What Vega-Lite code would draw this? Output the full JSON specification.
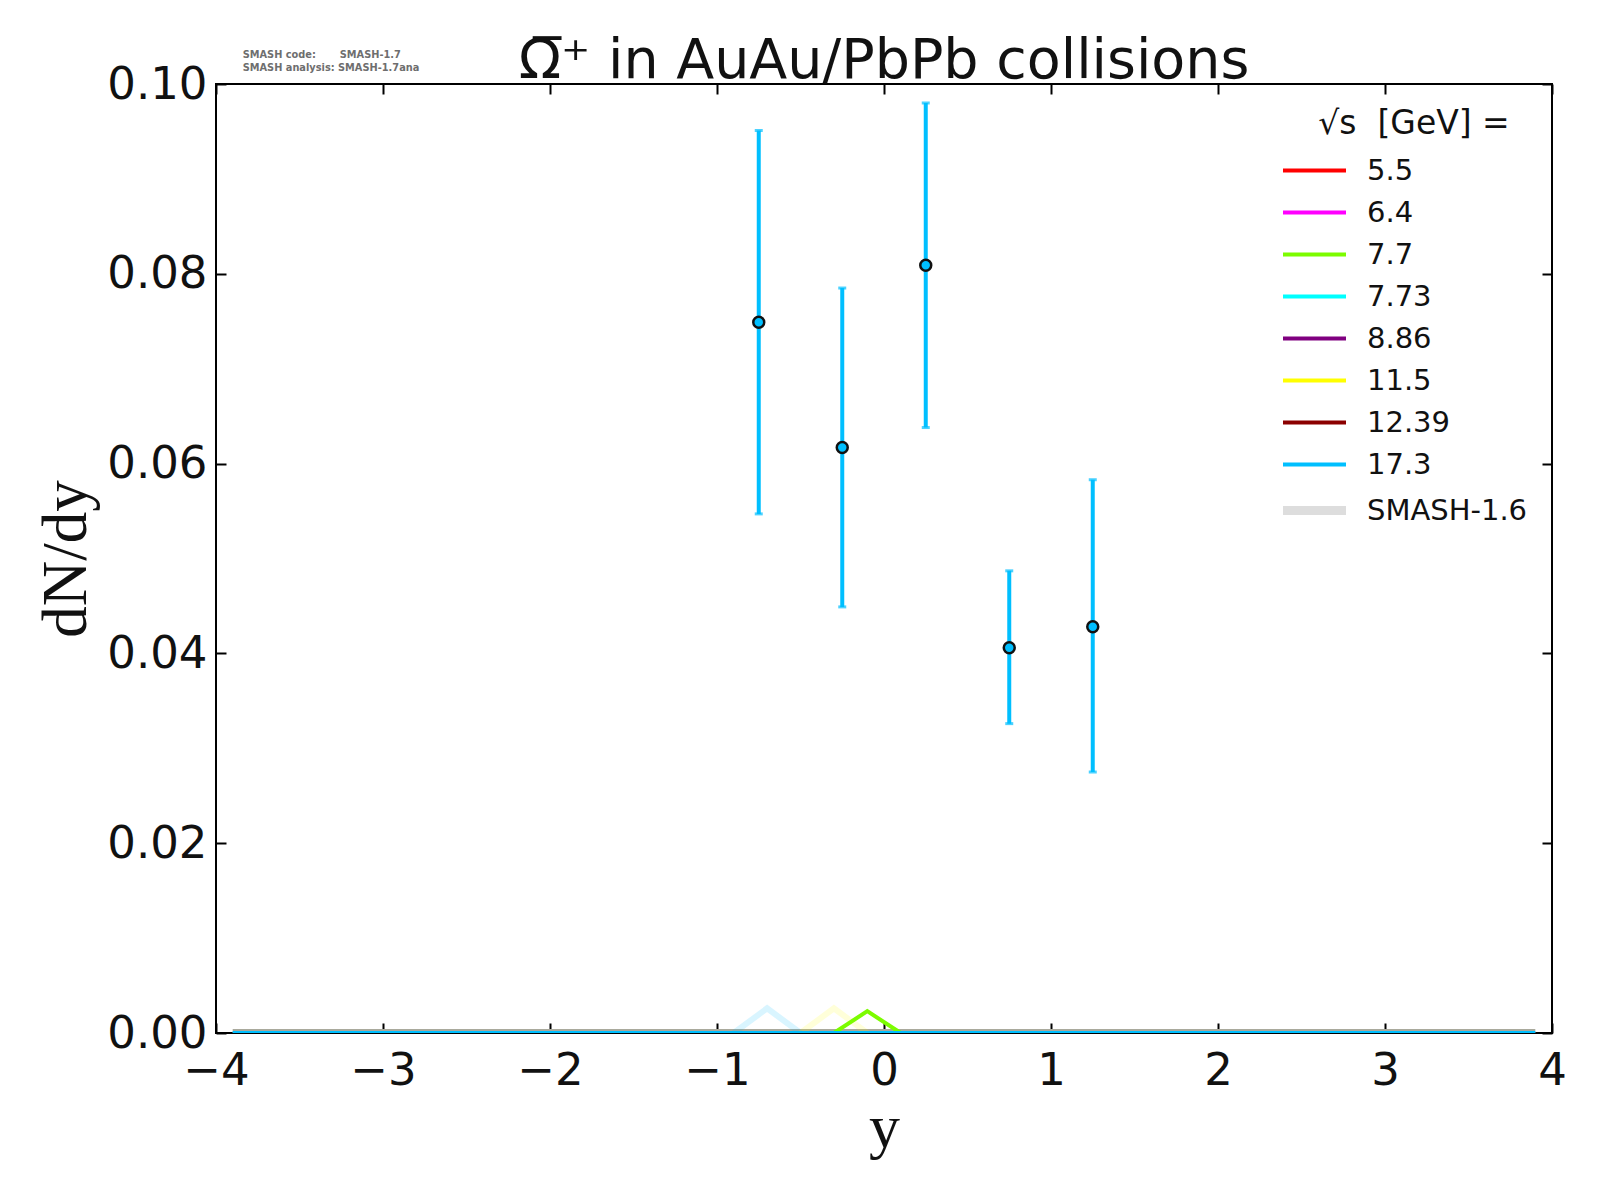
{
  "$schema": "https://vega.github.io/schema/vega-lite/v6.json",
  "width": 1336,
  "height": 949,
  "autosize": {"type": "none"},
  "padding": {"left": 216, "top": 84, "right": 48, "bottom": 167},
  "background": "white",
  "title": {"text": "Ω̅⁺ in AuAu/PbPb collisions", "font": "DejaVu Sans", "fontSize": 55.5, "fontWeight": "normal", "color": "#111111", "offset": -39, "anchor": "middle"},
  "config": {
    "view": {"stroke": "black", "strokeWidth": 2},
    "axis": {"domain": false, "grid": false, "tickColor": "black", "tickWidth": 2, "tickSize": -10, "labelFont": "DejaVu Sans", "labelFontSize": 45, "labelColor": "#111111", "labelFlush": false, "titleFont": "Liberation Serif", "titleFontWeight": "normal", "titleColor": "#111111", "zindex": 1},
    "legend": {"labelFont": "DejaVu Sans", "labelFontSize": 29, "labelColor": "#111111", "labelLimit": 400, "titleFont": "DejaVu Sans", "titleFontSize": 33, "titleFontWeight": "normal", "titleColor": "#111111", "titleLimit": 400}
  },
  "datasets": {
    "pts": [
      {"y": -0.75, "dNdy": 0.0749, "lo": 0.0547, "hi": 0.0951},
      {"y": -0.25, "dNdy": 0.0617, "lo": 0.0449, "hi": 0.0785},
      {"y": 0.25, "dNdy": 0.0809, "lo": 0.0638, "hi": 0.098},
      {"y": 0.75, "dNdy": 0.0406, "lo": 0.0326, "hi": 0.0487},
      {"y": 1.25, "dNdy": 0.0428, "lo": 0.0275, "hi": 0.0583}
    ],
    "old": [
      {"y": -0.9, "dNdy": 0, "s": "17.3"},
      {"y": -0.7, "dNdy": 0.0026, "s": "17.3"},
      {"y": -0.5, "dNdy": 0, "s": "17.3"},
      {"y": -0.5, "dNdy": 0, "s": "11.5"},
      {"y": -0.3, "dNdy": 0.0026, "s": "11.5"},
      {"y": -0.1, "dNdy": 0, "s": "11.5"}
    ],
    "cur": [
      {"y": -0.3, "dNdy": 0, "s": "7.7"},
      {"y": -0.1, "dNdy": 0.0023, "s": "7.7"},
      {"y": 0.1, "dNdy": 0, "s": "7.7"},
      {"y": -3.9, "dNdy": 0, "s": "17.3"},
      {"y": 3.9, "dNdy": 0, "s": "17.3"}
    ],
    "band": [
      {"y": -3.9, "dNdy": 0},
      {"y": 3.9, "dNdy": 0}
    ]
  },
  "layer": [
    {
      "data": {"name": "pts"},
      "mark": {"type": "point", "opacity": 0},
      "encoding": {
        "x": {"field": "y", "type": "quantitative", "scale": {"domain": [-4, 4], "nice": false, "zero": false},
              "axis": {"values": [-4, -3, -2, -1, 0, 1, 2, 3, 4], "format": "d", "title": "y", "titleFontSize": 62, "labelPadding": 25, "titlePadding": 4}},
        "y": {"field": "dNdy", "type": "quantitative", "scale": {"domain": [0, 0.1], "nice": false, "zero": false},
              "axis": {"values": [0, 0.02, 0.04, 0.06, 0.08, 0.1], "format": ".2f", "title": "dN/dy", "titleFontSize": 63, "labelPadding": 19, "titlePadding": 8}}
      }
    },
    {
      "data": {"name": "pts"},
      "mark": {"type": "point", "opacity": 0},
      "encoding": {
        "x": {"field": "y", "type": "quantitative", "axis": {"orient": "top", "values": [-4, -3, -2, -1, 0, 1, 2, 3, 4], "labels": false, "title": null}},
        "y": {"field": "dNdy", "type": "quantitative", "axis": {"orient": "right", "values": [0, 0.02, 0.04, 0.06, 0.08, 0.1], "labels": false, "title": null}}
      }
    },
    {
      "data": {"name": "band"},
      "mark": {"type": "line", "color": "#a9a99c", "strokeWidth": 8, "clip": true},
      "encoding": {
        "x": {"field": "y", "type": "quantitative", "axis": null},
        "y": {"field": "dNdy", "type": "quantitative", "axis": null}
      }
    },
    {
      "data": {"name": "old"},
      "mark": {"type": "line", "strokeWidth": 6, "opacity": 0.15, "clip": true},
      "encoding": {
        "x": {"field": "y", "type": "quantitative", "axis": null},
        "y": {"field": "dNdy", "type": "quantitative", "axis": null},
        "color": {"field": "s", "type": "nominal"}
      }
    },
    {
      "data": {"name": "cur"},
      "mark": {"type": "line", "strokeWidth": 4, "clip": true},
      "encoding": {
        "x": {"field": "y", "type": "quantitative", "axis": null},
        "y": {"field": "dNdy", "type": "quantitative", "axis": null},
        "color": {"field": "s", "type": "nominal",
          "scale": {"domain": ["5.5", "6.4", "7.7", "7.73", "8.86", "11.5", "12.39", "17.3", "SMASH-1.6"],
                    "range": ["#ff0000", "#ff00ff", "#7cfc00", "#00ffff", "#800080", "#ffff00", "#8b0000", "#00bfff", "#dddddd"]},
          "legend": {"title": "√s\u00a0 [GeV] =", "orient": "top-right", "offset": 24, "titleAnchor": "middle", "titlePadding": 15, "symbolType": "stroke", "symbolSize": 3969, "symbolStrokeWidth": 4, "rowPadding": 12, "labelOffset": 38,
            "encode": {"symbols": {"update": {"strokeWidth": {"signal": "datum.value === 'SMASH-1.6' ? 9 : 4"}}}}}}
      }
    },
    {
      "data": {"name": "pts"},
      "mark": {"type": "rule", "color": "#00bfff", "strokeWidth": 4},
      "encoding": {
        "x": {"field": "y", "type": "quantitative", "axis": null},
        "y": {"field": "lo", "type": "quantitative", "axis": null},
        "y2": {"field": "hi"}
      }
    },
    {
      "data": {"name": "pts"},
      "mark": {"type": "tick", "orient": "horizontal", "color": "#00bfff", "size": 8, "thickness": 3},
      "encoding": {
        "x": {"field": "y", "type": "quantitative", "axis": null},
        "y": {"field": "lo", "type": "quantitative", "axis": null}
      }
    },
    {
      "data": {"name": "pts"},
      "mark": {"type": "tick", "orient": "horizontal", "color": "#00bfff", "size": 8, "thickness": 3},
      "encoding": {
        "x": {"field": "y", "type": "quantitative", "axis": null},
        "y": {"field": "hi", "type": "quantitative", "axis": null}
      }
    },
    {
      "data": {"name": "pts"},
      "mark": {"type": "point", "shape": "circle", "filled": true, "fill": "#00bfff", "stroke": "#111111", "strokeWidth": 2.5, "size": 120, "opacity": 1},
      "encoding": {
        "x": {"field": "y", "type": "quantitative", "axis": null},
        "y": {"field": "dNdy", "type": "quantitative", "axis": null}
      }
    },
    {
      "data": {"values": [{}]},
      "mark": {"type": "text", "align": "left", "baseline": "middle", "font": "DejaVu Sans", "fontSize": 9.8, "fontWeight": "bold", "color": "#6e6e6e", "lineHeight": 13, "dy": -29},
      "encoding": {
        "x": {"datum": -3.84, "type": "quantitative", "axis": null},
        "y": {"datum": 0.1, "type": "quantitative", "axis": null},
        "text": {"value": ["SMASH code:\u00a0\u00a0\u00a0\u00a0\u00a0\u00a0 SMASH-1.7", "SMASH analysis: SMASH-1.7ana"]}
      }
    }
  ],
  "resolve": {"axis": {"x": "independent", "y": "independent"}}
}
